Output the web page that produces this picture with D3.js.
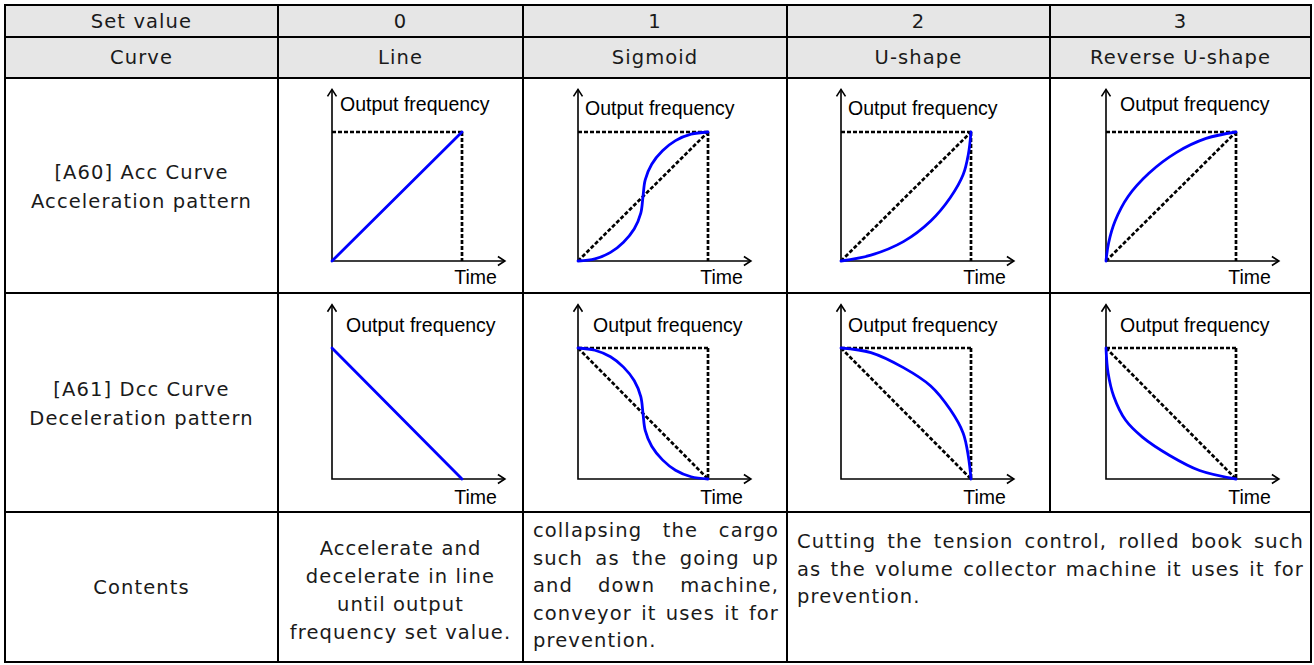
<!DOCTYPE html>
<html>
<head>
<meta charset="utf-8">
<script src="https://cdn.jsdelivr.net/npm/d3@7"></script>
<style>
body { margin: 0; background: #fff; }
text.cell { font-family: "DejaVu Sans", sans-serif; font-size: 19.5px; fill: #1a1a1a; letter-spacing: 1.1px; }
text.plot { font-family: "Liberation Sans", Arial, sans-serif; font-size: 19.5px; fill: #000; }
</style>
</head>
<body>
<svg id="chart" width="1314" height="665"></svg>
<script>
//table text
var rowTitles = ["Set value", "Curve"];
var setValues = ["0", "1", "2", "3"];
var curveNames = ["Line", "Sigmoid", "U-shape", "Reverse U-shape"];
var patternTitles = [["[A60] Acc Curve", "Acceleration pattern"], ["[A61] Dcc Curve", "Deceleration pattern"]];
var contentsTitle = "Contents";
var contentsLine = ["Accelerate and", "decelerate in line", "until output", "frequency set value."];
var contentsSigmoid = ["collapsing the cargo", "such as the going up", "and down machine,", "conveyor it uses it for", "prevention."];
var contentsUShape = ["Cutting the tension control, rolled book such", "as the volume collector machine it uses it for", "prevention."];
var yLabel = "Output frequency";
var xLabel = "Time";

//curve points, [time, frequency] in 0..1
var accLine = [[0, 0], [1, 1]];
var accSigmoid = [[0, 0], [0.13, 0.017], [0.25, 0.067], [0.35, 0.146], [0.433, 0.25], [0.483, 0.371], [0.5, 0.5], [0.517, 0.629], [0.567, 0.75], [0.65, 0.854], [0.75, 0.933], [0.87, 0.983], [1, 1]];
var accUShape = [[0, 0], [0.23, 0.045], [0.48, 0.15], [0.69, 0.31], [0.84, 0.49], [0.94, 0.67], [0.98, 0.83], [1, 1]];
var accReverseU = [[0, 0], [0.02, 0.14], [0.07, 0.31], [0.17, 0.5], [0.33, 0.68], [0.54, 0.84], [0.77, 0.95], [1, 1]];

var dccLine = [[0, 1], [1, 0]];
var dccSigmoid = [[0, 1], [0.13, 0.983], [0.25, 0.933], [0.35, 0.854], [0.433, 0.75], [0.483, 0.629], [0.5, 0.5], [0.517, 0.371], [0.567, 0.25], [0.65, 0.146], [0.75, 0.067], [0.87, 0.017], [1, 0]];
var dccUShape = [[0, 1], [0.23, 0.965], [0.48, 0.85], [0.69, 0.71], [0.84, 0.53], [0.94, 0.35], [0.98, 0.17], [1, 0]];
var dccReverseU = [[0, 1], [0.016, 0.81], [0.06, 0.63], [0.15, 0.45], [0.28, 0.32], [0.49, 0.18], [0.72, 0.065], [1, 0]];

//dotted guide segments
var boxTop = [[0, 1], [1, 1]], boxRight = [[1, 1], [1, 0]];
var accGuides = [[boxTop, boxRight], [boxTop, boxRight, [[0, 0], [1, 1]]], [boxTop, boxRight, [[0, 0], [1, 1]]], [boxTop, boxRight, [[0, 0], [1, 1]]]];
var dccGuides = [[], [boxTop, boxRight, [[0, 1], [1, 0]]], [boxTop, boxRight, [[0, 1], [1, 0]]], [boxTop, boxRight, [[0, 1], [1, 0]]]];

var plotRowsData = [
    {curves: [accLine, accSigmoid, accUShape, accReverseU], guides: accGuides},
    {curves: [dccLine, dccSigmoid, dccUShape, dccReverseU], guides: dccGuides}
];

//layout
var colX = [5, 278, 523, 787, 1050, 1311];
var rowY = [5, 37, 78, 293, 512, 662];
var plotBox = [{top: 132, bottom: 261}, {top: 348, bottom: 479}];
var plotLeft = [54, 55, 54, 56];
var labelPos = [[[8, -21], [7, -17], [7, -17], [14, -21]], [[14, -16], [15, -16], [7, -16], [14, -16]]];
var axisMax = 1.33;

var svg = d3.select("#chart");

//header background
svg.append("rect")
    .attr("x", colX[0]).attr("y", rowY[0])
    .attr("width", colX[5] - colX[0]).attr("height", rowY[2] - rowY[0])
    .attr("fill", "#e6e6e6");

function centerText(str, cx, cy) {
    svg.append("text").attr("class", "cell")
        .attr("x", cx).attr("y", cy)
        .attr("text-anchor", "middle")
        .attr("dominant-baseline", "central")
        .text(str);
}

function mid(a, b) { return (a + b) / 2; }

//header rows
centerText(rowTitles[0], mid(colX[0], colX[1]), mid(rowY[0], rowY[1]));
centerText(rowTitles[1], mid(colX[0], colX[1]), mid(rowY[1], rowY[2]));
setValues.forEach(function(v, i) { centerText(v, mid(colX[i + 1], colX[i + 2]), mid(rowY[0], rowY[1])); });
curveNames.forEach(function(v, i) { centerText(v, mid(colX[i + 1], colX[i + 2]), mid(rowY[1], rowY[2])); });

//pattern titles
patternTitles.forEach(function(lines, r) {
    var cy = mid(rowY[r + 2], rowY[r + 3]) + 1.5;
    lines.forEach(function(l, k) {
        centerText(l, mid(colX[0], colX[1]), cy + (k - 0.5) * 29);
    });
});

//plots
var curveLine = d3.line().curve(d3.curveCatmullRom.alpha(0.5));
var straight = d3.line();

plotRowsData.forEach(function(row, r) {
    for (var c = 0; c < 4; c++) {
        var left = colX[c + 1] + plotLeft[c];
        var x = d3.scaleLinear().domain([0, 1]).range([left, left + 130]);
        var y = d3.scaleLinear().domain([0, 1]).range([plotBox[r].bottom, plotBox[r].top]);
        var g = svg.append("g");
        curveLine.x(function(d) { return x(d[0]); }).y(function(d) { return y(d[1]); });
        straight.x(function(d) { return x(d[0]); }).y(function(d) { return y(d[1]); });

        //axes
        g.append("path")
            .attr("d", straight([[0, axisMax], [0, 0], [axisMax, 0]]))
            .attr("fill", "none").attr("stroke", "#000").attr("stroke-width", 1.6);
        var tipY = [x(0), y(axisMax)], tipX = [x(axisMax), y(0)];
        g.append("path")
            .attr("d", "M" + (tipY[0] - 4.5) + "," + (tipY[1] + 7) + "L" + tipY[0] + "," + tipY[1] + "L" + (tipY[0] + 4.5) + "," + (tipY[1] + 7) +
                "M" + (tipX[0] - 7) + "," + (tipX[1] - 4.5) + "L" + tipX[0] + "," + tipX[1] + "L" + (tipX[0] - 7) + "," + (tipX[1] + 4.5))
            .attr("fill", "none").attr("stroke", "#000").attr("stroke-width", 1.6);

        //dotted guides
        g.selectAll("path.guide")
            .data(row.guides[c])
            .enter().append("path")
            .attr("class", "guide")
            .attr("d", straight)
            .attr("fill", "none").attr("stroke", "#000")
            .attr("stroke-width", 2.7).attr("stroke-dasharray", "4,2");

        //curve
        g.append("path")
            .datum(row.curves[c])
            .attr("d", curveLine)
            .attr("fill", "none").attr("stroke", "#0000ff")
            .attr("stroke-width", 2.8).attr("stroke-linecap", "round");

        //labels
        g.append("text").attr("class", "plot")
            .attr("x", x(0) + labelPos[r][c][0])
            .attr("y", y(1) + labelPos[r][c][1])
            .text(yLabel);
        g.append("text").attr("class", "plot")
            .attr("x", x(axisMax) - 8)
            .attr("y", y(0) + 23 + r * 2)
            .attr("text-anchor", "end")
            .text(xLabel);
    }
});

//contents row
centerText(contentsTitle, mid(colX[0], colX[1]), mid(rowY[4], rowY[5]));
contentsLine.forEach(function(l, k) {
    centerText(l, mid(colX[1], colX[2]), mid(rowY[4], rowY[5]) + 3 + (k - 1.5) * 28);
});

function paragraph(lines, left, right, firstY, pitch) {
    lines.forEach(function(str, i) {
        var t = svg.append("text").attr("class", "cell")
            .attr("y", firstY + i * pitch)
            .attr("dominant-baseline", "central");
        if (i === lines.length - 1) { t.attr("x", left).text(str); return; }
        var words = str.split(" ");
        var spans = words.map(function(w) { return t.append("tspan").text(w); });
        var widths = spans.map(function(s) { return s.node().getComputedTextLength(); });
        var gap = (right - left - d3.sum(widths)) / (words.length - 1);
        var xx = left;
        spans.forEach(function(s, k) { s.attr("x", xx); xx += widths[k] + gap; });
    });
}

paragraph(contentsSigmoid, colX[2] + 10, colX[3] - 8, rowY[4] + 18, 27.7);
paragraph(contentsUShape, colX[3] + 10, colX[5] - 7, rowY[4] + 29, 27.5);

//grid lines
var hLines = rowY.map(function(yy) { return [colX[0], yy, colX[5], yy]; });
var vLines = [];
colX.forEach(function(xx, i) {
    if (i === 4) vLines.push([xx, rowY[0], xx, rowY[4]]);
    else vLines.push([xx, rowY[0], xx, rowY[5]]);
});
svg.selectAll("line.grid")
    .data(hLines.concat(vLines))
    .enter().append("line")
    .attr("class", "grid")
    .attr("x1", function(d) { return d[0]; }).attr("y1", function(d) { return d[1]; })
    .attr("x2", function(d) { return d[2]; }).attr("y2", function(d) { return d[3]; })
    .attr("stroke", "#000").attr("stroke-width", 2)
    .attr("stroke-linecap", "square");
</script>
</body>
</html>
